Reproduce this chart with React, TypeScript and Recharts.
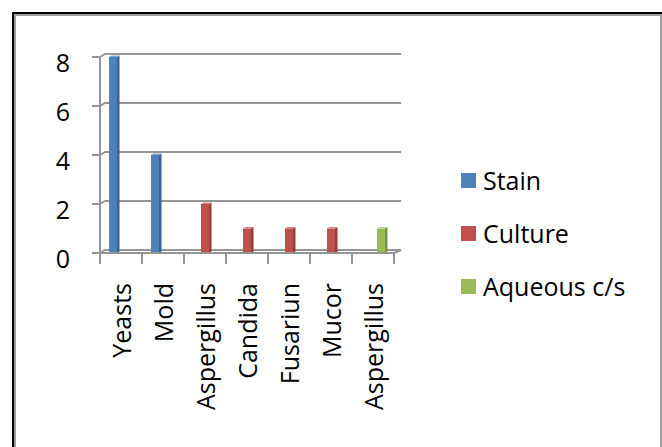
import React from 'react';
import { BarChart, Bar, XAxis, YAxis, CartesianGrid } from 'recharts';

const categories = ['Yeasts', 'Mold', 'Aspergillus', 'Candida', 'Fusariun', 'Mucor', 'Aspergillus'];
const stain = [8, 4, null, null, null, null, null];
const culture = [null, null, 2, 1, 1, 1, null];
const aqueous = [null, null, null, null, null, null, 1];
const yTicks = [0, 2, 4, 6, 8];

const seriesNames = ['Stain', 'Culture', 'Aqueous c/s'];
const seriesKeys = ['stain', 'culture', 'aqueous'];
const seriesColors = ['#4F81BD', '#C0504D', '#9BBB59'];
const seriesSides = ['#3A6394', '#973C3A', '#78933F'];
const seriesTops = ['#7FA3D3', '#D57F7D', '#BAD38A'];

const data = categories.map((c, i) => ({
  name: c,
  stain: stain[i],
  culture: culture[i],
  aqueous: aqueous[i],
}));

const W = 662;
const H = 447;
const PLOT_LEFT = 100;
const PLOT_RIGHT = 394;
const PLOT_TOP = 57;
const PLOT_BOTTOM = 253;
const Y_W = 60;
const X_H = 160;
const HALF_BAND = (PLOT_RIGHT - PLOT_LEFT) / categories.length / 2;
const FONT = '"Open Sans", sans-serif';
const FS = 25;
const GRID = '#959595';
const DX = 5;
const DY = 3;

const make3D = (si: number) => (props: any) => {
  const { x, y, width, height } = props;
  if (height == null || !(height > 0)) return <g />;
  const d = 2.5;
  return (
    <g>
      <rect x={x} y={y} width={width} height={height} fill={seriesColors[si]} />
      <polygon
        points={`${x + width},${y} ${x + width + d},${y - 1.5} ${x + width + d},${y + height - 1.5} ${x + width},${y + height}`}
        fill={seriesSides[si]}
      />
      <polygon
        points={`${x},${y} ${x + d},${y - 1.5} ${x + width + d},${y - 1.5} ${x + width},${y}`}
        fill={seriesTops[si]}
      />
    </g>
  );
};

const GridLine = (props: any) => {
  const { x1, x2, y1 } = props;
  return (
    <path
      key={props.key ?? `g-${y1}`}
      d={`M${x1},${y1} L${x1 + DX},${y1 - DY} L${x2 + DX + 2},${y1 - DY}`}
      stroke={GRID}
      strokeWidth={2}
      fill="none"
    />
  );
};

const XTick = (props: any) => {
  const { x, y, payload } = props;
  const isLast = payload.index === categories.length - 1;
  return (
    <g>
      <line x1={x - HALF_BAND} y1={y} x2={x - HALF_BAND} y2={y + 11} stroke={GRID} strokeWidth={2} />
      {isLast && (
        <g>
          <line x1={x + HALF_BAND} y1={y} x2={x + HALF_BAND} y2={y + 11} stroke={GRID} strokeWidth={2} />
          <line x1={x + HALF_BAND} y1={y} x2={x + HALF_BAND + DX + 2} y2={y - DY} stroke={GRID} strokeWidth={2} />
        </g>
      )}
      <text
        x={x}
        y={y + 30}
        transform={`rotate(-90, ${x}, ${y + 30})`}
        textAnchor="end"
        dominantBaseline="central"
        fontFamily={FONT}
        fontSize={FS}
        fill="#000"
      >
        {payload.value}
      </text>
    </g>
  );
};

const YTick = (props: any) => {
  const { x, y, payload } = props;
  return (
    <text x={x} y={y + 5} textAnchor="end" dominantBaseline="central" fontFamily={FONT} fontSize={FS} fill="#000">
      {payload.value}
    </text>
  );
};

export default function App() {
  return (
    <div style={{ position: 'absolute', left: 0, top: 0, width: W, height: H, background: '#fff', overflow: 'hidden' }}>
      <div
        style={{
          position: 'absolute',
          left: 12,
          top: 12,
          width: W - 12,
          height: H,
          borderTop: '2px solid #000',
          borderLeft: '2px solid #000',
          boxSizing: 'border-box',
        }}
      >
        <div
          style={{
            position: 'absolute',
            left: 0,
            top: 0,
            right: 0,
            bottom: 0,
            borderTop: '2px solid #a0a0a0',
            borderLeft: '2px solid #a0a0a0',
            borderRight: '2px solid #a0a0a0',
            boxSizing: 'border-box',
          }}
        />
      </div>
      <div style={{ position: 'absolute', left: 0, top: 0 }}>
        <BarChart
          width={W}
          height={H}
          data={data}
          margin={{ top: PLOT_TOP, right: W - PLOT_RIGHT, bottom: H - PLOT_BOTTOM - X_H, left: PLOT_LEFT - Y_W }}
          barSize={8}
          barGap={0}
        >
          <CartesianGrid vertical={false} horizontal={GridLine as any} />
          <XAxis
            dataKey="name"
            height={X_H}
            interval={0}
            tickLine={false}
            tickSize={0}
            tickMargin={0}
            axisLine={{ stroke: GRID, strokeWidth: 2 }}
            tick={XTick}
            allowDuplicatedCategory={true}
          />
          <YAxis
            width={Y_W}
            domain={[0, 8]}
            ticks={yTicks}
            interval={0}
            tickSize={8}
            tickMargin={22}
            axisLine={{ stroke: GRID, strokeWidth: 2 }}
            tickLine={{ stroke: GRID, strokeWidth: 2 }}
            tick={YTick}
          />
          {seriesKeys.map((k, i) => (
            <Bar key={k} dataKey={k} name={seriesNames[i]} fill={seriesColors[i]} shape={make3D(i)} isAnimationActive={false} />
          ))}
        </BarChart>
      </div>
      {seriesNames.map((n, i) => (
        <div
          key={n}
          style={{
            position: 'absolute',
            left: 461,
            top: 180 + i * 53 - 18,
            height: 36,
            display: 'flex',
            alignItems: 'center',
            fontFamily: FONT,
            fontSize: FS,
            color: '#000',
            whiteSpace: 'nowrap',
          }}
        >
          <span style={{ display: 'inline-block', width: 15, height: 15, background: seriesColors[i], marginRight: 7 }} />
          <span>{n}</span>
        </div>
      ))}
    </div>
  );
}
